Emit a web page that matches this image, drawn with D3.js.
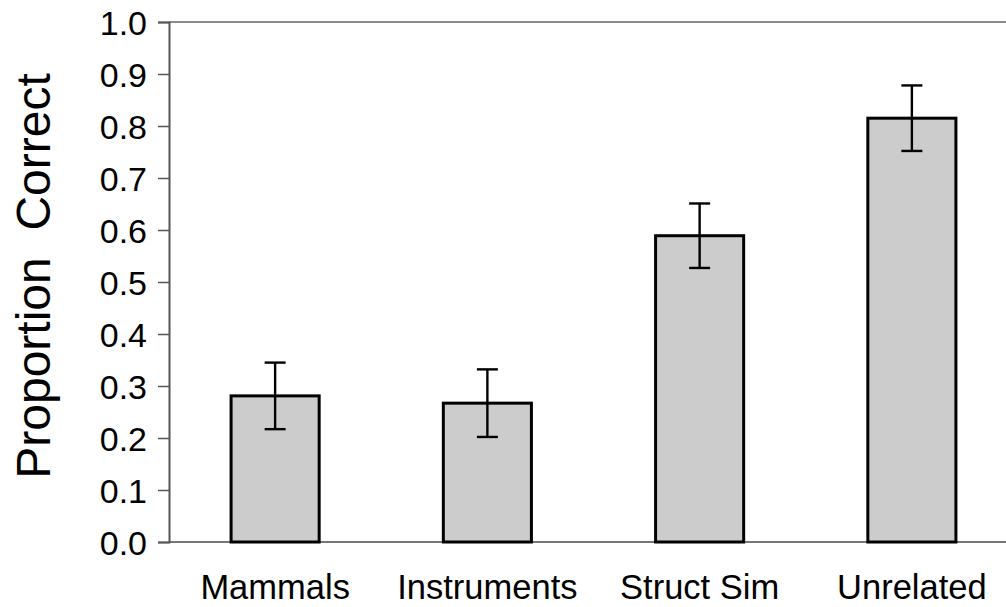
<!DOCTYPE html>
<html>
<head>
<meta charset="utf-8">
<script src="https://cdn.jsdelivr.net/npm/d3@7"></script>
<style>
  html, body { margin: 0; padding: 0; background: #fff; }
  svg { display: block; font-family: "Liberation Sans", Arial, Helvetica, sans-serif; }
</style>
</head>
<body>
<svg id="chart" width="1006" height="607"></svg>
<script>
const categories = ["Mammals", "Instruments", "Struct Sim", "Unrelated"];
const means = [0.281, 0.267, 0.589, 0.815];
const errors = [0.064, 0.065, 0.062, 0.063];
const yTicks = [0, 0.1, 0.2, 0.3, 0.4, 0.5, 0.6, 0.7, 0.8, 0.9, 1.0];
const yTitle = "Proportion  Correct";

(function () {
const svg = d3.select("#chart");
const mLeft = 169, mTop = 22, mBottom = 542, mRight = 1018;

const x = d3.scaleBand().domain(categories).range([mLeft, mRight]).padding(0);
const y = d3.scaleLinear().domain([0, 1]).range([mBottom, mTop]);
const barW = x.bandwidth() * 0.415;

// top frame line
svg.append("line")
  .attr("x1", mLeft).attr("x2", mRight).attr("y1", y(1)).attr("y2", y(1))
  .attr("stroke", "#8c8c8c").attr("stroke-width", 2);

// x axis baseline
svg.append("line")
  .attr("x1", mLeft).attr("x2", mRight).attr("y1", y(0)).attr("y2", y(0))
  .attr("stroke", "#777").attr("stroke-width", 2);

// y axis
const yAxis = d3.axisLeft(y).tickValues(yTicks).tickFormat(d3.format(".1f")).tickSize(11).tickPadding(11);
const gy = svg.append("g").attr("transform", `translate(${mLeft},0)`).call(yAxis);
gy.select(".domain").attr("stroke", "#555").attr("stroke-width", 2);
gy.selectAll(".tick line").attr("stroke", "#555").attr("stroke-width", 1.5);
gy.selectAll(".tick text").attr("fill", "#000").attr("font-size", 34)
  .attr("font-family", "Liberation Sans, Arial, sans-serif").attr("dy", "0.36em");

// x labels
const xAxis = d3.axisBottom(x).tickSize(0).tickPadding(0);
const gx = svg.append("g").attr("transform", `translate(0,${mBottom})`).call(xAxis);
gx.select(".domain").remove();
gx.selectAll(".tick text").attr("fill", "#000").attr("font-size", 34.5)
  .attr("font-family", "Liberation Sans, Arial, sans-serif")
  .attr("y", 57).attr("dy", 0);

// bars
svg.selectAll("rect.bar").data(categories).join("rect")
  .attr("class", "bar")
  .attr("x", d => x(d) + x.bandwidth() / 2 - barW / 2)
  .attr("width", barW)
  .attr("y", (d, i) => y(means[i]))
  .attr("height", (d, i) => y(0) - y(means[i]))
  .attr("fill", "#cccccc").attr("stroke", "#000").attr("stroke-width", 3);

// error bars
const capW = 21;
const eb = svg.selectAll("g.err").data(categories).join("g").attr("class", "err")
  .attr("stroke", "#000").attr("stroke-width", 2.4);
eb.append("line")
  .attr("x1", d => x(d) + x.bandwidth() / 2).attr("x2", d => x(d) + x.bandwidth() / 2)
  .attr("y1", (d, i) => y(means[i] + errors[i])).attr("y2", (d, i) => y(means[i] - errors[i]));
eb.append("line")
  .attr("x1", d => x(d) + x.bandwidth() / 2 - capW / 2).attr("x2", d => x(d) + x.bandwidth() / 2 + capW / 2)
  .attr("y1", (d, i) => y(means[i] + errors[i])).attr("y2", (d, i) => y(means[i] + errors[i]));
eb.append("line")
  .attr("x1", d => x(d) + x.bandwidth() / 2 - capW / 2).attr("x2", d => x(d) + x.bandwidth() / 2 + capW / 2)
  .attr("y1", (d, i) => y(means[i] - errors[i])).attr("y2", (d, i) => y(means[i] - errors[i]));

// y title
svg.append("text")
  .attr("transform", `translate(50,${(75 + 477) / 2}) rotate(-90)`)
  .attr("text-anchor", "middle")
  .attr("font-size", 48)
  .attr("fill", "#000")
  .style("white-space", "pre")
  .text(yTitle);
})();
</script>
</body>
</html>
